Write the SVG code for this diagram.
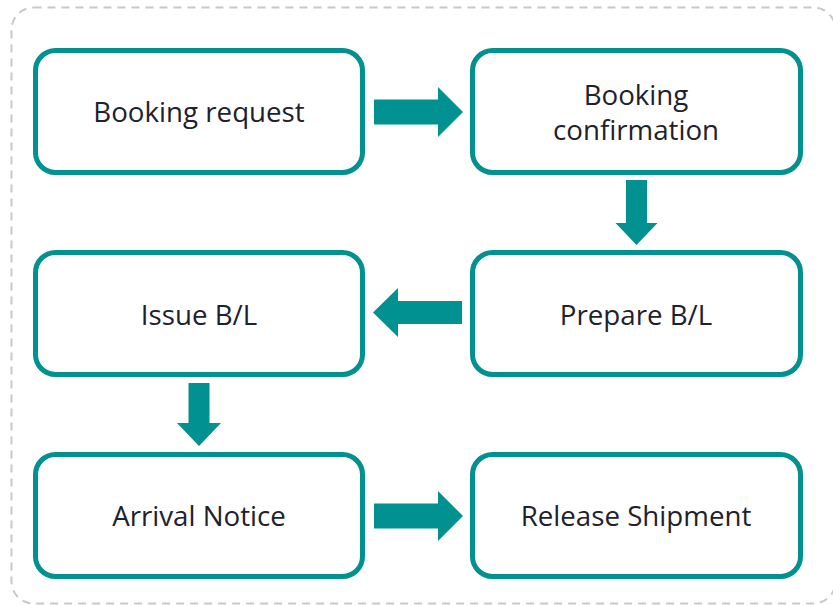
<svg xmlns="http://www.w3.org/2000/svg" width="833" height="605" viewBox="0 0 833 605">
<style>
.frame{fill:none;stroke:#c8c8c8;stroke-width:2;stroke-dasharray:8 6}
.box{fill:#fff;stroke:#009190;stroke-width:5}
.lbl{font-family:"Open Sans","Noto Sans",sans-serif;font-size:27.7px;fill:#21212e;text-anchor:middle}
.arr{fill:#009190}
</style>
<rect width="833" height="605" fill="#fff"/>
<rect class="frame" x="11.5" y="7.5" width="824" height="596" rx="22"/>
<g id="n1"><rect class="box" x="35.5" y="50.5" width="327" height="122" rx="20"/><text class="lbl" x="199" y="122">Booking request</text></g>
<g id="n2"><rect class="box" x="472.5" y="50.5" width="328" height="122" rx="20"/><text class="lbl" x="636" y="105">Booking</text><text class="lbl" x="636" y="140">confirmation</text></g>
<g id="n3"><rect class="box" x="472.5" y="252.5" width="328" height="122" rx="20"/><text class="lbl" x="636" y="325">Prepare B/L</text></g>
<g id="n4"><rect class="box" x="35.5" y="252.5" width="327" height="122" rx="20"/><text class="lbl" x="199" y="325">Issue B/L</text></g>
<g id="n5"><rect class="box" x="35.5" y="454.5" width="327" height="122" rx="20"/><text class="lbl" x="199" y="526">Arrival Notice</text></g>
<g id="n6"><rect class="box" x="472.5" y="454.5" width="328" height="122" rx="20"/><text class="lbl" x="636" y="526">Release Shipment</text></g>
<g id="connectors">
<polygon class="arr" points="374,99.5 438,99.5 438,87 463,112 438,137 438,124.5 374,124.5"/>
<polygon class="arr" points="626,180 647,180 647,223 657.5,223 636.5,245 615.5,223 626,223"/>
<polygon class="arr" points="462,301 398,301 398,288 373,312.5 398,337 398,324 462,324"/>
<polygon class="arr" points="188.5,383 209.5,383 209.5,423 221,423 199,446 177,423 188.5,423"/>
<polygon class="arr" points="374,503.5 438,503.5 438,491 463,516 438,541 438,528.5 374,528.5"/>
</g>
</svg>
